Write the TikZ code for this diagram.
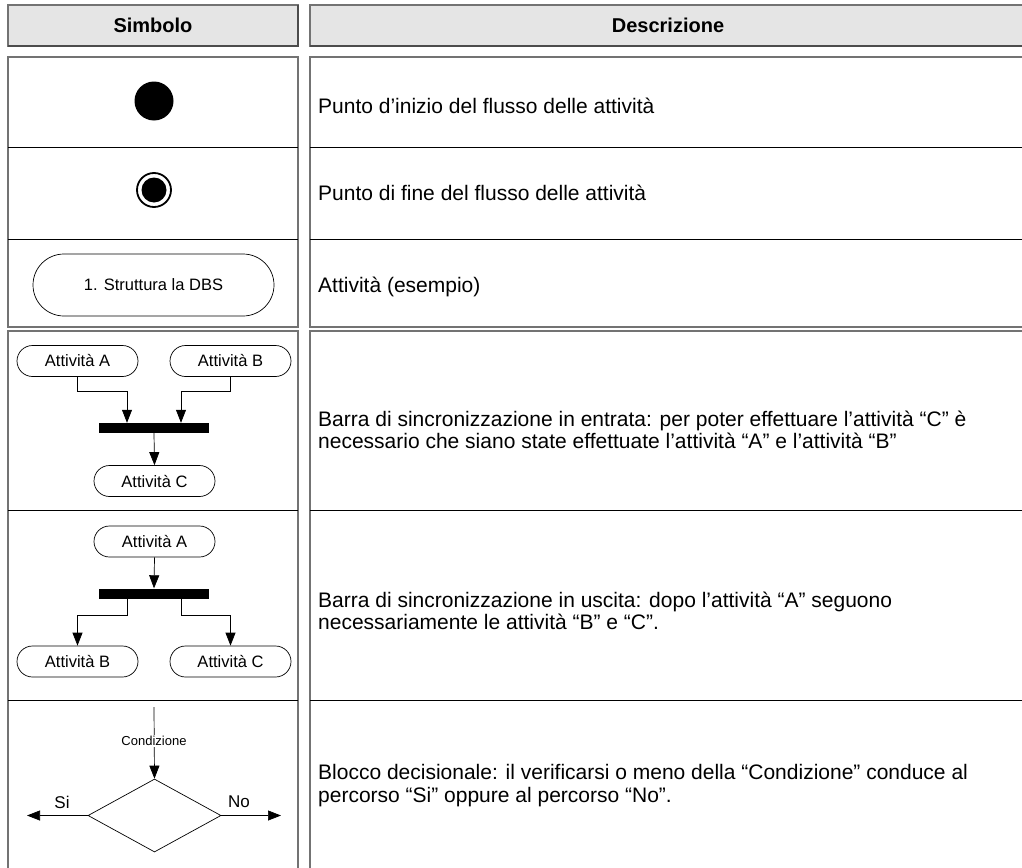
\documentclass[tikz,border=0pt]{standalone}
\usepackage{fontspec}
\setmainfont{Liberation Sans}
\usetikzlibrary{shapes.misc,shapes.geometric,arrows.meta}
\begin{document}
\begin{tikzpicture}[x=1pt,y=-1pt,
  outer/.style={draw=black!55, line width=1.2pt},
  head/.style={outer, fill=black!10},
  rowline/.style={draw=black, line width=0.9pt},
  headtext/.style={font=\fontsize{20}{24}\selectfont\bfseries, inner sep=0pt},
  act/.style={draw, rounded rectangle, minimum width=121pt, minimum height=31pt, inner sep=0pt, line width=0.7pt, font=\fontsize{16.5}{19}\selectfont},
  syncbar/.style={fill=black, minimum width=110pt, minimum height=10pt, inner sep=0pt},
  arr/.style={-{Triangle[length=13pt,width=10pt]}, line width=0.7pt},
  desc/.style={anchor=base west, inner sep=0pt, font=\fontsize{21}{24}\selectfont},
  lab/.style={inner sep=0pt, font=\fontsize{17}{20}\selectfont},
]
\useasboundingbox (0,0) rectangle (1022,867);
\clip (0,0) rectangle (1022,867);

% header
\draw[head] (8,5) rectangle (298,46);
\draw[head] (310,5) rectangle (1040,46);
\draw[black!70, line width=1.4pt] (8,46) -- (298,46) -- (298,5);
\draw[black!70, line width=1.4pt] (310,46) -- (1040,46);
\node[headtext] (hsym) at (153,25.5) {Simbolo};
\node[headtext] (hdesc) at (668,25.5) {Descrizione};

% body boxes
\draw[outer] (8,57) rectangle (298,327);
\draw[outer] (310,57) rectangle (1040,327);
\draw[outer] (8,331) rectangle (298,900);
\draw[outer] (310,331) rectangle (1040,900);
\foreach \yy in {147,239,510,700}{
  \draw[rowline] (8,\yy) -- (298,\yy);
  \draw[rowline] (310,\yy) -- (1040,\yy);
}

% row 1: start
\node[circle, fill=black, minimum size=39pt, inner sep=0pt] (start) at (154,101) {};
\node[desc] (d1) at (318,113) {Punto d'inizio del flusso delle attività};

% row 2: end
\node[circle, draw, line width=1.8pt, minimum size=34pt, inner sep=0pt] (endo) at (154,190) {};
\node[circle, fill=black, minimum size=25pt, inner sep=0pt] (endi) at (154,190) {};
\node[desc] (d2) at (318,200) {Punto di fine del flusso delle attività};

% row 3: activity
\node[draw, rounded rectangle, minimum width=241pt, minimum height=62pt, inner sep=0pt, line width=0.7pt, font=\fontsize{16.5}{19}\selectfont] (dbs) at (153.5,285) {1. Struttura la DBS};
\node[desc] (d3) at (318,292) {Attività (esempio)};

% row 4: join
\node[act] (actA) at (77.5,361) {Attività A};
\node[act] (actB) at (230.5,361) {Attività B};
\node[syncbar] (bar1) at (154,428) {};
\node[act] (actC) at (154.5,481) {Attività C};
\draw[arr] (actA.south) -- ++(0,14) -| ([xshift=-27pt]bar1.north);
\draw[arr] (actB.south) -- ++(0,14) -| ([xshift=27pt]bar1.north);
\draw[arr] (bar1.south) -- (actC.north);
\node[desc] (d4a) at (318,426) {Barra di sincronizzazione in entrata: per poter effettuare l’attività “C” è};
\node[desc] (d4b) at (318,448) {necessario che siano state effettuate l’attività “A” e l’attività “B”};

% row 5: fork
\node[act] (actA2) at (154.5,541.5) {Attività A};
\node[syncbar] (bar2) at (154,593.5) {};
\node[act] (actB2) at (77.5,661.5) {Attività B};
\node[act] (actC2) at (230.5,661.5) {Attività C};
\draw[arr] (actA2.south) -- (bar2.north);
\draw[arr] ([xshift=-27pt]bar2.south) -- ++(0,17) -| (actB2.north);
\draw[arr] ([xshift=27pt]bar2.south) -- ++(0,17) -| (actC2.north);
\node[desc] (d5a) at (318,607) {Barra di sincronizzazione in uscita: dopo l’attività “A” seguono};
\node[desc] (d5b) at (318,629) {necessariamente le attività “B” e “C”.};

% row 6: decision
\coordinate (cin) at (154,707);
\node[diamond, draw, minimum width=133pt, minimum height=73pt, inner sep=0pt, line width=0.7pt] (dec) at (154.5,815.5) {};
\draw[arr] (cin) -- (dec.north);
\node[fill=white, inner sep=1.5pt, font=\fontsize{13}{15}\selectfont] (cond) at (154,741) {Condizione};
\coordinate (si) at (27,815.5);
\coordinate (no) at (281,815.5);
\draw[arr] (dec.west) -- (si);
\draw[arr] (dec.east) -- (no);
\node[lab] (silab) at (62,802) {Si};
\node[lab] (nolab) at (239,802) {No};
\node[desc] (d6a) at (318,779) {Blocco decisionale: il verificarsi o meno della “Condizione” conduce al};
\node[desc] (d6b) at (318,802) {percorso “Si” oppure al percorso “No”.};
\end{tikzpicture}
\end{document}
